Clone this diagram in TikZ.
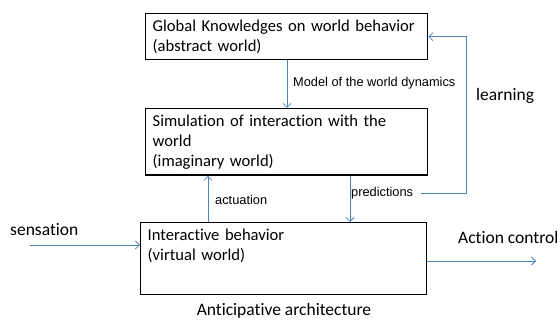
\documentclass[tikz,border=0pt]{standalone}
\usepackage{fontspec}
\setmainfont{Carlito}[Ligatures=NoCommon]
\newfontfamily\arialfont{Liberation Sans}
\usepackage{xcolor}
\usepackage{tikz}
\usetikzlibrary{arrows.meta,positioning,calc}
\definecolor{linkblue}{RGB}{79,129,189}

\begin{document}
\begin{tikzpicture}[x=1pt,y=-1pt,
    box/.style={draw,line width=1.4pt,anchor=north west,align=left,
      inner xsep=7pt,inner ysep=6pt,font=\fontsize{16.6}{20}\selectfont},
    link/.style={linkblue,line width=0.8pt,-{Straight Barb[length=4pt,width=8pt]}},
    tag/.style={font=\arialfont\fontsize{12.8}{14}\selectfont,inner sep=0pt,anchor=west},
    bigtag/.style={font=\fontsize{17.5}{20}\selectfont,inner sep=0pt,anchor=west}]
  \useasboundingbox (0,0) rectangle (560,320);

  \node[box,text width=268pt] (glob) at (145,13) {Global Knowledges on world behavior\\(abstract world)};
  \node[box,text width=268pt] (sim) at (145,108) {Simulation of interaction with the\\world\\(imaginary world)};
  \node[box,text width=272pt] (inter) at (140,222) {Interactive behavior\\(virtual world)\\[8pt]\mbox{}};

  \node[tag] (model) at (293,83) {Model of the world dynamics};
  \node[tag] (act) at (215,200) {actuation};
  \node[tag] (pred) at (351,193) {predictions};
  \node[bigtag] (learn) at (476,96) {learning};
  \node[bigtag] (sens) at (10,230) {sensation};
  \node[bigtag] (ctrl) at (458,237) {Action control};
  \node[bigtag,anchor=center] (title) at (284,311) {Anticipative architecture};

  \coordinate (ret) at (466,193);
  \coordinate (sin) at (30,245);
  \coordinate (aout) at (536,261);

  \draw[link] ([xshift=142]glob.south west) -- ([xshift=142]sim.north west);
  \draw[link] ([xshift=68]inter.north west) -- ([xshift=63]sim.south west);
  \draw[link] ([xshift=205]sim.south west) -- ([xshift=210]inter.north west);
  \draw[link] ([xshift=8]pred.east) -- (ret) |- (glob.east);
  \draw[link] (sin) -- (sin -| inter.west);
  \draw[link] (aout -| inter.east) -- (aout);
\end{tikzpicture}
\end{document}
